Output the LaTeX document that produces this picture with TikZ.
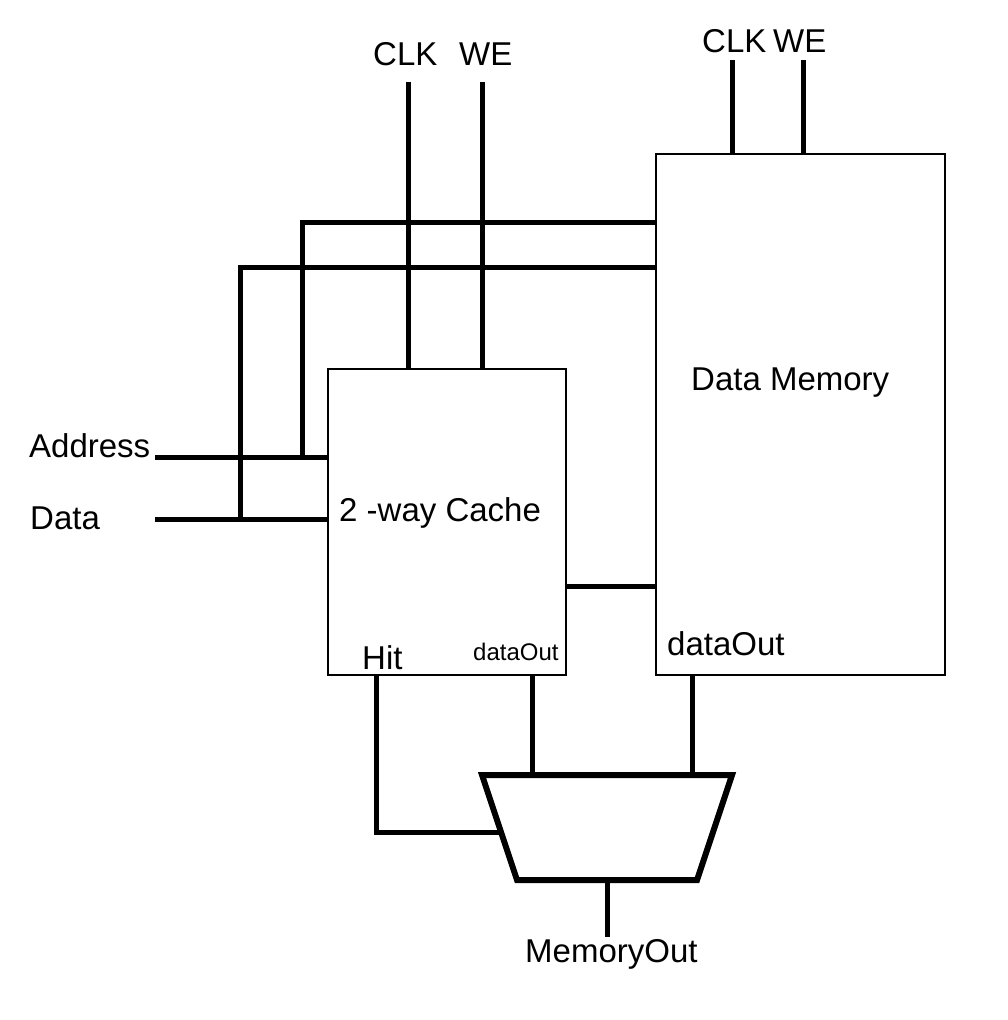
\documentclass[tikz,border=0pt]{standalone}
\usepackage{fontspec}
\setmainfont{Liberation Sans}
\begin{document}
\begin{tikzpicture}[x=1pt,y=-1pt,
  wire/.style={line width=5pt},
  box/.style={draw, line width=2.5pt, inner sep=0pt, outer sep=0pt, rectangle},
  muxline/.style={line width=6pt, line join=miter},
  lbl/.style={inner sep=0pt, anchor=base west, font=\fontsize{33}{40}\selectfont},
  slbl/.style={inner sep=0pt, anchor=base west, font=\fontsize{24}{29}\selectfont}]
\useasboundingbox (0,0) rectangle (1008,1020);
\fill[white] (0,0) rectangle (1008,1020);
% boxes
\node[box, minimum width=238pt, minimum height=306pt] (cache) at (447,522) {};
\node[box, minimum width=289pt, minimum height=521pt] (dm) at (800.5,414.5) {};
% labels
\node[lbl] (clkA) at (373,65) {CLK};
\node[lbl] (weA) at (459,65) {WE};
\node[lbl] (clkB) at (702,52) {CLK};
\node[lbl] (weB) at (773,52) {WE};
\node[lbl] (addr) at (29,457) {Address};
\node[lbl] (data) at (30,529) {Data};
\node[lbl] (dmtxt) at (691,390) {Data Memory};
\node[lbl] (cachetxt) at (339,521) {2 -way Cache};
\node[lbl] (hit) at (362,669) {Hit};
\node[slbl] (cdout) at (473,660) {dataOut};
\node[lbl] (ddout) at (667,655) {dataOut};
\node[lbl] (mout) at (525,962) {MemoryOut};
% control wires
\coordinate (clkAend) at (408,82);
\coordinate (weAend) at (482,82);
\coordinate (clkBend) at (732,60);
\coordinate (weBend) at (803,60);
\draw[wire] (clkAend) -- (clkAend |- cache.north);
\draw[wire] (weAend) -- (weAend |- cache.north);
\draw[wire] (clkBend) -- (clkBend |- dm.north);
\draw[wire] (weBend) -- (weBend |- dm.north);
% address and data
\coordinate (addrin) at (155,457);
\coordinate (datain) at (155,519);
\draw[wire] (addrin) -- (addrin -| cache.west);
\draw[wire] (datain) -- (datain -| cache.west);
\coordinate (ja) at (302,457);
\coordinate (ta) at (302,222);
\coordinate (jd) at (240,519);
\coordinate (td) at (240,267);
\draw[wire] (ja) -- (ta) -- (ta -| dm.west);
\draw[wire] (jd) -- (td) -- (td -| dm.west);
% cache to data memory
\coordinate (cd) at (566,586);
\draw[wire] (cache.east |- cd) -- (dm.west |- cd);
% mux
\coordinate (m1) at (482,775);
\coordinate (m2) at (732,775);
\coordinate (m3) at (697,880);
\coordinate (m4) at (517,880);
\coordinate (cdo) at (532,775);
\coordinate (ddo) at (692,775);
\coordinate (hb) at (376,832);
\coordinate (hsel) at (500,832);
\coordinate (mo) at (607,880);
\coordinate (moend) at (607,937);
\draw[wire] (cdo |- cache.south) -- (cdo);
\draw[wire] (ddo |- dm.south) -- (ddo);
\draw[wire] (hb |- cache.south) -- (hb) -- (hsel);
\draw[wire] (mo) -- (moend);
\draw[muxline] (m1) -- (m2) -- (m3) -- (m4) -- cycle;
\end{tikzpicture}
\end{document}
